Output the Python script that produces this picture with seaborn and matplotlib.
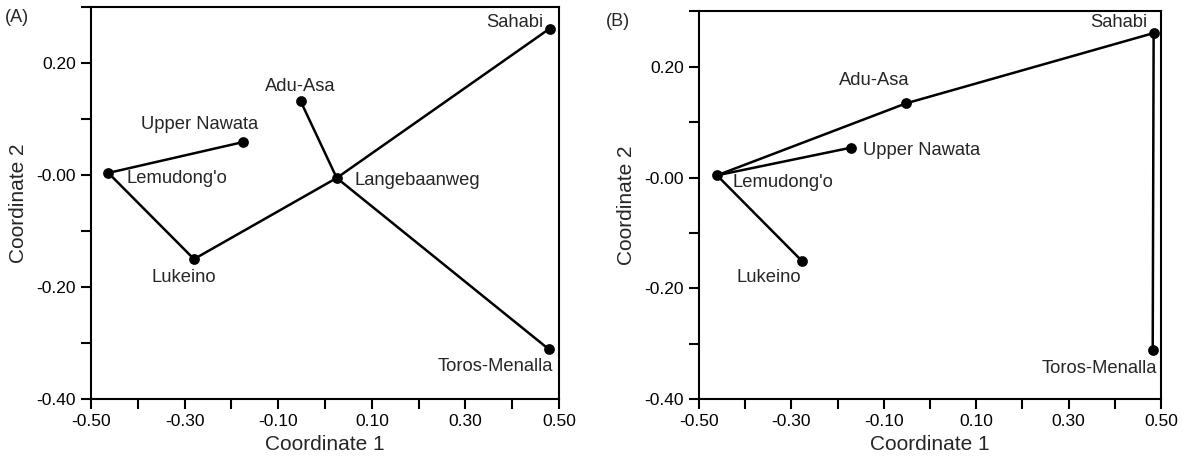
import numpy as np
import pandas as pd
import matplotlib.pyplot as plt
import seaborn as sns

# Site coordinates, panel A
sites_a = ["Sahabi", "Adu-Asa", "Upper Nawata", "Lemudong'o",
           "Langebaanweg", "Lukeino", "Toros-Menalla"]
coord1_a = [0.480, -0.052, -0.176, -0.463, 0.025, -0.280, 0.478]
coord2_a = [0.262, 0.132, 0.059, 0.004, -0.005, -0.150, -0.311]
edges_a = [("Upper Nawata", "Lemudong'o"), ("Lemudong'o", "Lukeino"),
           ("Lukeino", "Langebaanweg"), ("Langebaanweg", "Sahabi"),
           ("Langebaanweg", "Adu-Asa"), ("Langebaanweg", "Toros-Menalla")]

# Site coordinates, panel B
sites_b = ["Sahabi", "Adu-Asa", "Upper Nawata", "Lemudong'o",
           "Lukeino", "Toros-Menalla"]
coord1_b = [0.484, -0.052, -0.171, -0.461, -0.278, 0.482]
coord2_b = [0.261, 0.134, 0.054, 0.004, -0.150, -0.312]
edges_b = [("Lemudong'o", "Adu-Asa"), ("Adu-Asa", "Sahabi"),
           ("Lemudong'o", "Upper Nawata"), ("Lemudong'o", "Lukeino"),
           ("Sahabi", "Toros-Menalla")]

# label placement (pixel offsets, alignment)
labels_a = {"Sahabi": (-6, 6, "right"), "Adu-Asa": (0, 15, "center"),
            "Upper Nawata": (-43, 18, "center"), "Lemudong'o": (18, -6, "left"),
            "Langebaanweg": (18, -3, "left"), "Lukeino": (-10, -18, "center"),
            "Toros-Menalla": (4, -17, "right")}
labels_b = {"Sahabi": (-6, 11, "right"), "Adu-Asa": (-32, 23, "center"),
            "Upper Nawata": (12, -3, "left"), "Lemudong'o": (16, -7, "left"),
            "Lukeino": (-33, -17, "center"), "Toros-Menalla": (4, -18, "right")}

sns.set_style("ticks")
plt.rcParams['font.family'] = ['Liberation Sans', 'DejaVu Sans']


def draw(ax, sites, c1, c2, edges, labels):
    pts = pd.DataFrame({"site": sites, "c1": c1, "c2": c2}).set_index("site")
    rows = []
    for i, (s, t) in enumerate(edges):
        rows.append({"edge": i, "c1": pts.loc[s, "c1"], "c2": pts.loc[s, "c2"]})
        rows.append({"edge": i, "c1": pts.loc[t, "c1"], "c2": pts.loc[t, "c2"]})
    lines = pd.DataFrame(rows)
    sns.lineplot(data=lines, x="c1", y="c2", units="edge", estimator=None,
                 sort=False, color="black", linewidth=1.8, ax=ax)
    sns.scatterplot(data=pts.reset_index(), x="c1", y="c2", color="black",
                    s=60, edgecolor="black", linewidth=0, zorder=3, ax=ax)
    for name, (dx, dy, ha) in labels.items():
        ax.annotate(name, (pts.loc[name, "c1"], pts.loc[name, "c2"]),
                    xytext=(dx, dy), textcoords="offset pixels",
                    ha=ha, va="center", fontsize=13.2)

    ax.set_xlim(-0.5, 0.5)
    ax.set_ylim(-0.4, 0.3)
    xt = np.round(np.arange(-0.5, 0.51, 0.1), 2)
    ax.set_xticks(xt)
    ax.set_xticklabels(["-0.50", "", "-0.30", "", "-0.10", "", "0.10", "", "0.30", "", "0.50"])
    yt = np.round(np.arange(-0.4, 0.31, 0.1), 2)
    ax.set_yticks(yt)
    ax.set_yticklabels(["-0.40", "", "-0.20", "", "-0.00", "", "0.20", ""])
    ax.tick_params(direction="out", length=7, width=1.5, labelsize=12.5,
                   colors="black", pad=4)
    for sp in ax.spines.values():
        sp.set_linewidth(1.5)
        sp.set_color("black")
    ax.set_xlabel("Coordinate 1", fontsize=15, labelpad=4)
    ax.set_ylabel("Coordinate 2", fontsize=15, labelpad=6)


fig = plt.figure(figsize=(11.93, 4.69), dpi=100)
ax_a = fig.add_axes([0.0763, 0.1493, 0.3923, 0.8351])
ax_b = fig.add_axes([0.5859, 0.1493, 0.3873, 0.8262])

draw(ax_a, sites_a, coord1_a, coord2_a, edges_a, labels_a)
draw(ax_b, sites_b, coord1_b, coord2_b, edges_b, labels_b)

fig.text(0.004, 0.962, "(A)", fontsize=13, ha="left", va="center")
fig.text(0.508, 0.955, "(B)", fontsize=13, ha="left", va="center")

fig.savefig("out.png", dpi=100)
